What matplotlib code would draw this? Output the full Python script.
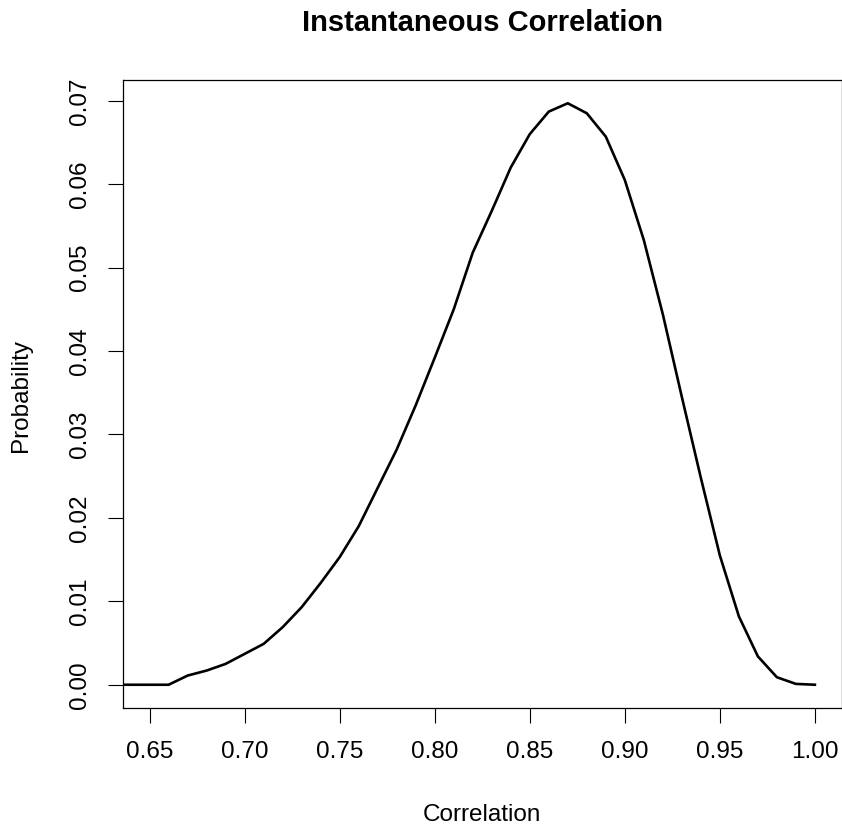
import numpy as np
import matplotlib.pyplot as plt

plt.rcParams['font.family'] = ['Liberation Sans', 'DejaVu Sans']

corr = np.round(np.arange(0.63, 1.0001, 0.01), 2)
prob = np.array([0.0000, 0.0000, 0.0000, 0.0000, 0.0011, 0.0017, 0.0025, 0.0037,
                 0.0049, 0.0069, 0.0093, 0.0122, 0.0153, 0.0190, 0.0236, 0.0282,
                 0.0335, 0.0392, 0.0450, 0.0518, 0.0568, 0.0620, 0.0660, 0.0687,
                 0.0697, 0.0685, 0.0657, 0.0605, 0.0533, 0.0444, 0.0345, 0.0248,
                 0.0155, 0.0082, 0.0034, 0.0009, 0.0001, 0.0000])

xticks = [0.65, 0.70, 0.75, 0.80, 0.85, 0.90, 0.95, 1.00]
yticks = [0.00, 0.01, 0.02, 0.03, 0.04, 0.05, 0.06, 0.07]

fig = plt.figure(figsize=(8.42, 8.25), dpi=100)
ax = fig.add_axes([123/842, 1 - 708/825, (841.5 - 123)/842, (708 - 80)/825])

ax.plot(corr, prob, color='black', lw=1.9)

# R style 4% padding around xlim = c(0.65, 1) and ylim = c(0, max)
xr = 1.00 - 0.65
ax.set_xlim(0.65 - 0.04 * xr, 1.00 + 0.04 * xr)
yr = prob.max()
ax.set_ylim(-0.04 * yr, yr * 1.04)

ax.set_xticks(xticks)
ax.set_xticklabels([f"{v:.2f}" for v in xticks])
ax.set_yticks(yticks)
ax.set_yticklabels([f"{v:.2f}" for v in yticks], rotation=90, va='center')
ax.tick_params(length=10.8, width=0.8, labelsize=17.5)
ax.tick_params(axis='x', pad=13)
ax.tick_params(axis='y', pad=12)
for s in ax.spines.values():
    s.set_linewidth(0.9)

fig.text(483/842, 1 - 31/825, "Instantaneous Correlation", ha='center', va='baseline',
         fontsize=21, fontweight='bold')
fig.text(482/842, 1 - 821/825, "Correlation", ha='center', va='baseline', fontsize=17.5)
fig.text(21/842, 1 - 396/825, "Probability", ha='center', va='center', fontsize=17.5,
         rotation=90)

fig.savefig("out.png", dpi=100)
